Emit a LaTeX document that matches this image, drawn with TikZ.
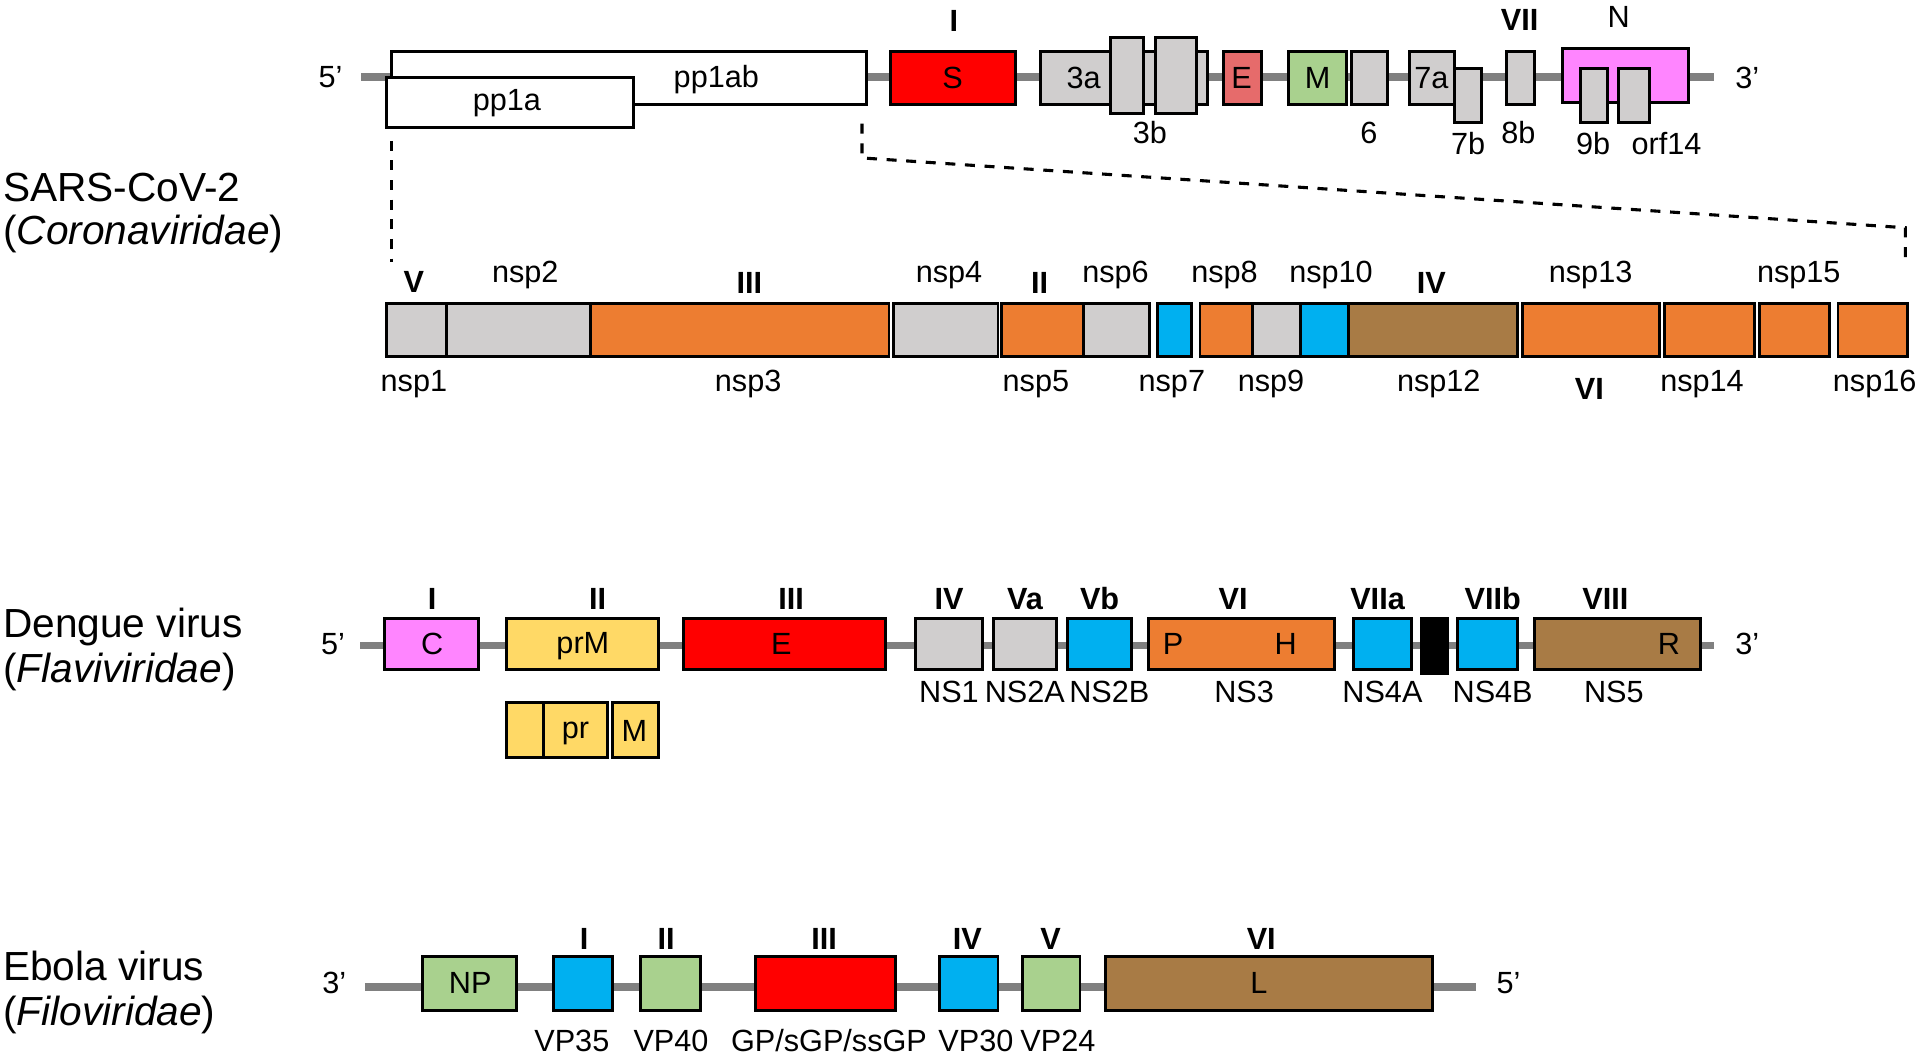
\documentclass[tikz,border=0pt]{standalone}
\usepackage{fontspec}
\setmainfont{Liberation Sans}
\usetikzlibrary{fit}
\definecolor{cgray}{HTML}{D0CECE}
\definecolor{corange}{HTML}{ED7D31}
\definecolor{cblue}{HTML}{00B0F0}
\definecolor{cbrown}{HTML}{A87B45}
\definecolor{cred}{HTML}{FF0000}
\definecolor{cgreen}{HTML}{A9D18E}
\definecolor{cmag}{HTML}{FF85FF}
\definecolor{cyellow}{HTML}{FFD966}
\definecolor{cE}{HTML}{E66B6B}
\definecolor{bbgray}{HTML}{808080}
\newcommand\lblfont{\fontsize{8.9}{10.5}\selectfont}
\newcommand\numfont{\fontsize{8.9}{10.5}\selectfont\bfseries}
\newcommand\ttlfont{\fontsize{11.8}{14}\selectfont}
\newcommand\genebox[6]{\node[bx,fill=#6,fit={(#2,#3) (#4,#5)}] (#1) {};}
\begin{document}
\begin{tikzpicture}[x=0.0125cm,y=-0.0125cm,
  bx/.style={draw=black,line width=0.85pt,inner sep=0pt,outer sep=0pt},
  lbl/.style={font=\lblfont,inner sep=0pt},
  num/.style={font=\numfont,inner sep=0pt},
  ttl/.style={font=\ttlfont,anchor=west,inner sep=0pt},
  bb/.style={draw=bbgray,line width=2.2pt},
  dsh/.style={line width=0.9pt,dash pattern=on 2.9pt off 2.8pt}]
\useasboundingbox (0,0) rectangle (1568,866);

% ---------- titles ----------
\node[ttl] (t1a) at (2,153) {SARS-CoV-2};
\node[ttl] (t1b) at (2,191) {(\textit{Coronaviridae})};
\node[ttl] (t2a) at (2,512) {Dengue virus};
\node[ttl] (t2b) at (2,549) {(\textit{Flaviviridae})};
\node[ttl] (t3a) at (2,789) {Ebola virus};
\node[ttl] (t3b) at (2,829) {(\textit{Filoviridae})};

% ---------- SARS-CoV-2 genome ----------
\coordinate (s5) at (295,63);
\coordinate (s3) at (1400,63);
\draw[bb] (s5) -- (s3);
\node[lbl] (s5t) at (270,63) {5’};
\node[lbl] (s3t) at (1427,64) {3’};
\genebox{pp1ab}{320}{42}{708}{85}{white}
\genebox{pp1a}{316}{63}{517}{104}{white}
\node[lbl] (pp1abt) at (585,65) {pp1ab};
\node[lbl] (pp1at) at (414,84) {pp1a};
\genebox{S}{727}{42}{829}{85}{cred}
\node[lbl] (St) at (778,63.5) {S};
\node[num] (Sn) at (779,17) {I};
\genebox{o3a}{850}{42}{986}{85}{cgray}
\genebox{o3b1}{907}{31}{934}{93}{cgray}
\genebox{o3b2}{944}{31}{977}{93}{cgray}
\node[lbl] (o3at) at (885,63.5) {3a};
\node[lbl] (o3bt) at (939,108.5) {3b};
\genebox{Eg}{999}{42}{1030}{85}{cE}
\node[lbl] (Egt) at (1014,63.5) {E};
\genebox{Mg}{1052}{42}{1100}{85}{cgreen}
\node[lbl] (Mgt) at (1076,63.5) {M};
\genebox{o6}{1104}{42}{1133}{85}{cgray}
\node[lbl] (o6t) at (1118,108.5) {6};
\genebox{o7a}{1151}{42}{1188}{85}{cgray}
\genebox{o7b}{1188}{56}{1210}{100}{cgray}
\node[lbl] (o7at) at (1169,63.5) {7a};
\node[lbl] (o7bt) at (1199,117.5) {7b};
\genebox{o8b}{1230}{42}{1253}{85}{cgray}
\node[lbl] (o8bt) at (1240,108.5) {8b};
\node[num] (o8bn) at (1241,16) {VII};
\genebox{Ng}{1276}{40}{1379}{84}{cmag}
\node[lbl] (Ngt) at (1322,14) {N};
\genebox{o9b}{1291}{56}{1313}{100}{cgray}
\genebox{o14}{1322}{56}{1347}{100}{cgray}
\node[lbl] (o9bt) at (1301,117.5) {9b};
\node[lbl] (o14t) at (1361,117.5) {orf14};

% ---------- dashed zoom lines ----------
\coordinate (dA) at (320,115);
\coordinate (dB) at (320,214);
\draw[dsh] (dA) -- (dB);
\coordinate (dC) at (704,101);
\coordinate (dD) at (704,129);
\coordinate (dE) at (1556,186);
\coordinate (dF) at (1556,213);
\draw[dsh] (dC) -- (dD) -- (dE) -- (dF);

% ---------- nsp row ----------
\genebox{n1}{316}{248}{365}{291}{cgray}
\genebox{n2}{365}{248}{482}{291}{cgray}
\genebox{n3}{482}{248}{726}{291}{corange}
\genebox{n4}{730}{248}{815}{291}{cgray}
\genebox{n5}{818}{248}{885}{291}{corange}
\genebox{n6}{885}{248}{939}{291}{cgray}
\genebox{n7}{945}{248}{973}{291}{cblue}
\genebox{n8}{980}{248}{1023}{291}{corange}
\genebox{n9}{1023}{248}{1062}{291}{cgray}
\genebox{n10}{1062}{248}{1101}{291}{cblue}
\genebox{n12}{1101}{248}{1239}{291}{cbrown}
\genebox{n13}{1243}{248}{1355}{291}{corange}
\genebox{n14}{1359}{248}{1433}{291}{corange}
\genebox{n15}{1437}{248}{1494}{291}{corange}
\genebox{n16}{1501}{248}{1558}{291}{corange}
% labels above
\node[num] (n1n) at (338,230) {V};
\node[lbl] (n2t) at (429,224.5) {nsp2};
\node[num] (n3n) at (612,231) {III};
\node[lbl] (n4t) at (775,224.5) {nsp4};
\node[num] (n5n) at (849,231) {II};
\node[lbl] (n6t) at (911,224.5) {nsp6};
\node[lbl] (n8t) at (1000,224.5) {nsp8};
\node[lbl] (n10t) at (1087,224.5) {nsp10};
\node[num] (n12n) at (1169,231) {IV};
\node[lbl] (n13t) at (1299,224.5) {nsp13};
\node[lbl] (n15t) at (1469,224.5) {nsp15};
% labels below
\node[lbl] (n1t) at (338,314) {nsp1};
\node[lbl] (n3t) at (611,314) {nsp3};
\node[lbl] (n5t) at (846,314) {nsp5};
\node[lbl] (n7t) at (957,314) {nsp7};
\node[lbl] (n9t) at (1038,314) {nsp9};
\node[lbl] (n12t) at (1175,314) {nsp12};
\node[num] (n13n) at (1298,317.5) {VI};
\node[lbl] (n14t) at (1390,314) {nsp14};
\node[lbl] (n16t) at (1531,314) {nsp16};

% ---------- Dengue genome ----------
\coordinate (d5) at (294,527);
\coordinate (d3) at (1400,527);
\draw[bb] (d5) -- (d3);
\node[lbl] (d5t) at (272,526) {5’};
\node[lbl] (d3t) at (1427,526) {3’};
\genebox{C}{314}{505}{391}{547}{cmag}
\genebox{prM}{414}{505}{538}{547}{cyellow}
\genebox{Ed}{558}{505}{723}{547}{cred}
\genebox{NS1}{748}{505}{802}{547}{cgray}
\genebox{NS2A}{811}{505}{863}{547}{cgray}
\genebox{NS2B}{872}{505}{924}{547}{cblue}
\genebox{NS3}{938}{505}{1090}{547}{corange}
\genebox{NS4A}{1105}{505}{1153}{547}{cblue}
\genebox{k2K}{1161}{505}{1182}{550}{black}
\genebox{NS4B}{1190}{505}{1239}{547}{cblue}
\genebox{NS5}{1253}{505}{1389}{547}{cbrown}
\genebox{sig}{414}{574}{444}{619}{cyellow}
\genebox{pr}{444}{574}{496}{619}{cyellow}
\genebox{Md}{500}{574}{538}{619}{cyellow}
\node[lbl] (Ct) at (353,526) {C};
\node[lbl] (prMt) at (476,528) {prM};
\node[lbl] (Edt) at (638,526) {E};
\node[lbl] (Pt) at (958,526) {P};
\node[lbl] (Ht) at (1050,526) {H};
\node[lbl] (Rt) at (1363,526) {R};
\node[lbl] (prt) at (470,599) {pr};
\node[lbl] (Mdt) at (518,597) {M};
\node[num] (Cn) at (353,489) {I};
\node[num] (prMn) at (488,489) {II};
\node[num] (Edn) at (646,489) {III};
\node[num] (NS1n) at (775,489) {IV};
\node[num] (NS2An) at (837,489) {Va};
\node[num] (NS2Bn) at (898,489) {Vb};
\node[num] (NS3n) at (1007,489) {VI};
\node[num] (NS4An) at (1125,489) {VIIa};
\node[num] (NS4Bn) at (1219,489) {VIIb};
\node[num] (NS5n) at (1311,489) {VIII};
\node[lbl] (NS1t) at (775,565) {NS1};
\node[lbl] (NS2At) at (837,565) {NS2A};
\node[lbl] (NS2Bt) at (906,565) {NS2B};
\node[lbl] (NS3t) at (1016,565) {NS3};
\node[lbl] (NS4At) at (1129,565) {NS4A};
\node[lbl] (NS4Bt) at (1219,565) {NS4B};
\node[lbl] (NS5t) at (1318,565) {NS5};

% ---------- Ebola genome ----------
\coordinate (e3) at (298,806);
\coordinate (e5) at (1205,806);
\draw[bb] (e3) -- (e5);
\node[lbl] (e3t) at (273,803) {3’};
\node[lbl] (e5t) at (1232,803) {5’};
\genebox{NP}{345}{781}{422}{825}{cgreen}
\genebox{VP35}{452}{781}{500}{825}{cblue}
\genebox{VP40}{523}{781}{572}{825}{cgreen}
\genebox{GP}{617}{781}{731}{825}{cred}
\genebox{VP30}{767}{781}{815}{825}{cblue}
\genebox{VP24}{835}{781}{882}{825}{cgreen}
\genebox{L}{903}{781}{1170}{825}{cbrown}
\node[lbl] (NPt) at (384,803) {NP};
\node[lbl] (Lt) at (1028,803) {L};
\node[num] (VP35n) at (477,767) {I};
\node[num] (VP40n) at (544,767) {II};
\node[num] (GPn) at (673,767) {III};
\node[num] (VP30n) at (790,767) {IV};
\node[num] (VP24n) at (858,767) {V};
\node[num] (Ln) at (1030,767) {VI};
\node[lbl] (VP35t) at (467,850) {VP35};
\node[lbl] (VP40t) at (548,850) {VP40};
\node[lbl] (GPt) at (677,850) {GP/sGP/ssGP};
\node[lbl] (VP30t) at (797,850) {VP30};
\node[lbl] (VP24t) at (864,850) {VP24};
\end{tikzpicture}
\end{document}
